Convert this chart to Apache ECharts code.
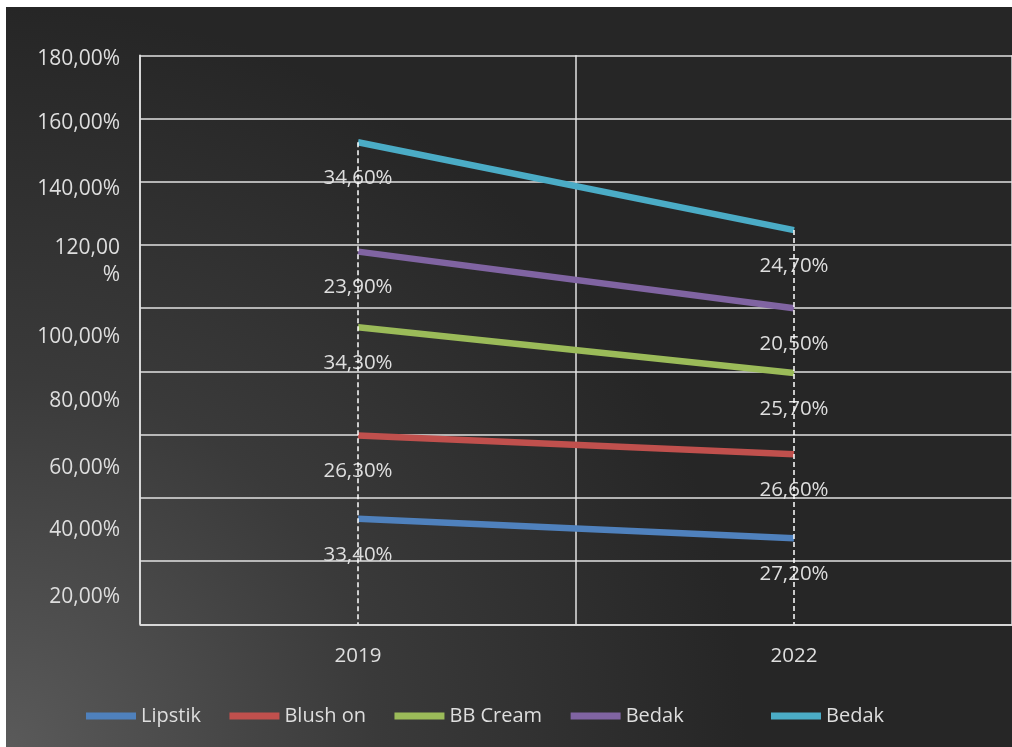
<!DOCTYPE html>
<html>
<head>
<meta charset="utf-8">
<script src="https://cdn.jsdelivr.net/npm/echarts@6/dist/echarts.min.js"></script>
<style>
  html, body { margin: 0; padding: 0; background: #ffffff; width: 1012px; height: 747px; overflow: hidden; }
  #chart { position: absolute; left: 6px; top: 7px; width: 1006px; height: 740px; }
</style>
</head>
<body>
<div id="chart"></div>
<script>
// ---- data ----
const categories = ['2019', '2022'];
const seriesNames = ['Lipstik', 'Blush on', 'BB Cream', 'Bedak', 'Bedak '];
const lipstik = [33.4, 27.2];
const blushOn = [26.3, 26.6];
const bbCream = [34.3, 25.7];
const bedakPurple = [23.9, 20.5];
const bedakCyan = [34.6, 24.7];
const yTickValues = [20, 40, 60, 80, 100, 120, 140, 160, 180];
const yTickLabels = ['20,00%', '40,00%', '60,00%', '80,00%', '100,00%', '120,00\n%', '140,00%', '160,00%', '180,00%'];

// ---- styles ----
const colors = ['#4F81BD', '#C0504D', '#9BBB59', '#8064A2', '#4BACC6'];
const textColor = '#dedede';
const font = 'Open Sans';
const gridColor = '#e2e2e2';
// downward shift (px) of each y tick label relative to its grid line, as in the reference
const yLabelShift = [35.5, 32.5, 33.5, 29.5, 29, 17, 7, 4, 3.5];

const allValues = [lipstik, blushOn, bbCream, bedakPurple, bedakCyan];
const totals = categories.map((c, i) => allValues.reduce((s, arr) => s + arr[i], 0));

const base = { fontSize: 21, fontFamily: font, color: textColor };
const rich = {};
yTickValues.forEach((v, i) => {
  rich['e' + v] = Object.assign({}, base, { lineHeight: yLabelShift[i] * 2 });
  rich['s' + v] = Object.assign({}, base, { lineHeight: 27 });
});

function fmtPct(v) { return v.toFixed(2).replace('.', ',') + '%'; }

const chart = echarts.init(document.getElementById('chart'), null, { renderer: 'canvas' });

const series = allValues.map((arr, si) => {
  const s = {
    name: seriesNames[si],
    type: 'line',
    stack: 'total',
    data: arr,
    showSymbol: true,
    symbol: 'circle',
    symbolSize: 0,
    itemStyle: { color: colors[si], opacity: 0 },
    color: colors[si],
    lineStyle: { width: 6.5, color: colors[si], cap: 'butt' },
    label: {
      show: true,
      position: 'bottom',
      distance: 26,
      color: textColor,
      fontSize: 20.5,
      lineHeight: 20,
      fontFamily: font,
      opacity: 1,
      formatter: p => fmtPct(p.value)
    },
    emphasis: { disabled: true },
    z: 3
  };
  if (si === allValues.length - 1) {
    s.markLine = {
      silent: true,
      symbol: ['none', 'none'],
      label: { show: false },
      lineStyle: { color: '#ffffff', type: [5, 3], width: 1.5, opacity: 1 },
      emphasis: { disabled: true },
      z: 5,
      data: categories.map((c, i) => [{ coord: [c, totals[i]] }, { coord: [c, 0] }])
    };
  }
  return s;
});

const legendItems = seriesNames.map((n, i) => ({
  name: n,
  icon: 'rect',
  itemStyle: { color: colors[i], opacity: 1, borderWidth: 0 },
  lineStyle: { width: 0, opacity: 0 }
}));

const legendCommon = {
  top: 697, padding: 0,
  icon: 'rect', itemWidth: 50, itemHeight: 7,
  selectedMode: false,
  itemStyle: { borderWidth: 0, opacity: 1 },
  lineStyle: { width: 0, opacity: 0 },
  textStyle: { color: textColor, fontSize: 20, fontFamily: font, lineHeight: 24 }
};

const option = {
  animation: false,
  backgroundColor: new echarts.graphic.RadialGradient(0, 1, 1.0, [
    { offset: 0, color: '#5a5a5a' },
    { offset: 0.5, color: '#3a3a3a' },
    { offset: 1, color: '#262626' }
  ]),
  textStyle: { fontFamily: font },
  grid: { left: 134, right: -3, top: 48.3, bottom: 122.7, containLabel: false },
  legend: [
    Object.assign({}, legendCommon, { data: legendItems.slice(0, 4), left: 80, itemGap: 28.5 }),
    Object.assign({}, legendCommon, { data: legendItems.slice(4), left: 765 })
  ],
  xAxis: {
    type: 'category',
    data: categories,
    boundaryGap: true,
    axisLine: { show: true, lineStyle: { color: gridColor, width: 1.5 } },
    axisTick: { show: false },
    axisLabel: { color: textColor, fontSize: 20.5, fontFamily: font, margin: 22, lineHeight: 20 },
    splitLine: { show: true, lineStyle: { color: gridColor, width: 1.5 } }
  },
  yAxis: {
    type: 'value',
    min: 0, max: 180, interval: 20,
    axisLine: { show: true, lineStyle: { color: gridColor, width: 1.5 } },
    axisTick: { show: false },
    splitLine: { show: true, lineStyle: { color: gridColor, width: 1.5 } },
    axisLabel: {
      margin: 20,
      color: textColor,
      fontSize: 21,
      fontFamily: font,
      rich: rich,
      formatter: function (value) {
        const i = yTickValues.indexOf(value);
        if (i < 0) return '';
        const lines = yTickLabels[i].split('\n');
        return '{e' + value + '| }\n' + lines.map(l => '{s' + value + '|' + l + '}').join('\n');
      }
    }
  },
  series: series
};

chart.setOption(option);
</script>
</body>
</html>
